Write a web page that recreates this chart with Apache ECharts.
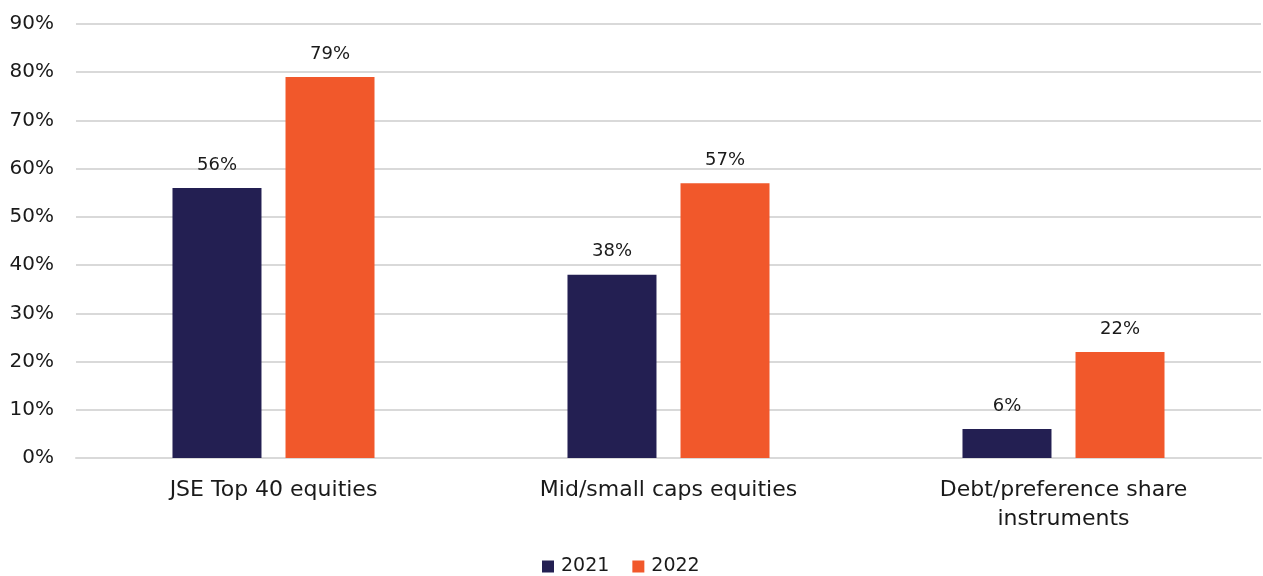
<!DOCTYPE html>
<html>
<head>
<meta charset="utf-8">
<script src="https://cdn.jsdelivr.net/npm/echarts@6/dist/echarts.min.js"></script>
<style>
  html, body { margin: 0; padding: 0; background: #fff; }
  #chart { width: 1263px; height: 576px; }
</style>
</head>
<body>
<div id="chart"></div>
<script>
// Share of respondents by instrument type, 2021 vs 2022 (percent)
const categories = ['JSE Top 40 equities', 'Mid/small caps equities', 'Debt/preference share\ninstruments'];
const seriesNames = ['2021', '2022'];
const values2021 = [56, 38, 6];
const values2022 = [79, 57, 22];

const FONT = '"DejaVu Sans", Lato, sans-serif';
const TEXT = '#1a1a1a';
const NAVY = '#231F52';
const ORANGE = '#F1582B';

const chart = echarts.init(document.getElementById('chart'), null, { renderer: 'canvas' });

function barSeries(name, data, color) {
  return {
    name: name,
    type: 'bar',
    data: data,
    barWidth: 89,
    barGap: '27%',
    itemStyle: { color: color },
    label: {
      show: true,
      position: 'top',
      distance: 14,
      formatter: p => p.value + '%',
      fontFamily: FONT,
      fontSize: 18,
      color: TEXT
    }
  };
}

chart.setOption({
  animation: false,
  grid: { left: 76, right: 2, top: 24, bottom: 118, containLabel: false },
  legend: {
    bottom: -5,
    left: 537,
    itemWidth: 12,
    itemHeight: 12,
    itemGap: 23,
    icon: 'rect',
    textStyle: { fontFamily: FONT, fontSize: 19, color: TEXT, padding: [0, 0, 0, 2] },
    data: seriesNames
  },
  xAxis: {
    type: 'category',
    data: categories,
    axisLine: { show: true, lineStyle: { color: '#d9d9d9', width: 2 } },
    axisTick: { show: false },
    axisLabel: {
      fontFamily: FONT,
      fontSize: 22,
      color: TEXT,
      margin: 18,
      lineHeight: 29
    }
  },
  yAxis: {
    type: 'value',
    min: 0,
    max: 90,
    interval: 10,
    axisLine: { show: false },
    axisTick: { show: false },
    splitLine: { lineStyle: { color: '#d9d9d9', width: 2 } },
    axisLabel: {
      formatter: v => v + '%',
      fontFamily: FONT,
      fontSize: 20,
      color: TEXT,
      margin: 22
    }
  },
  series: [
    barSeries(seriesNames[0], values2021, NAVY),
    barSeries(seriesNames[1], values2022, ORANGE)
  ]
});
</script>
</body>
</html>
